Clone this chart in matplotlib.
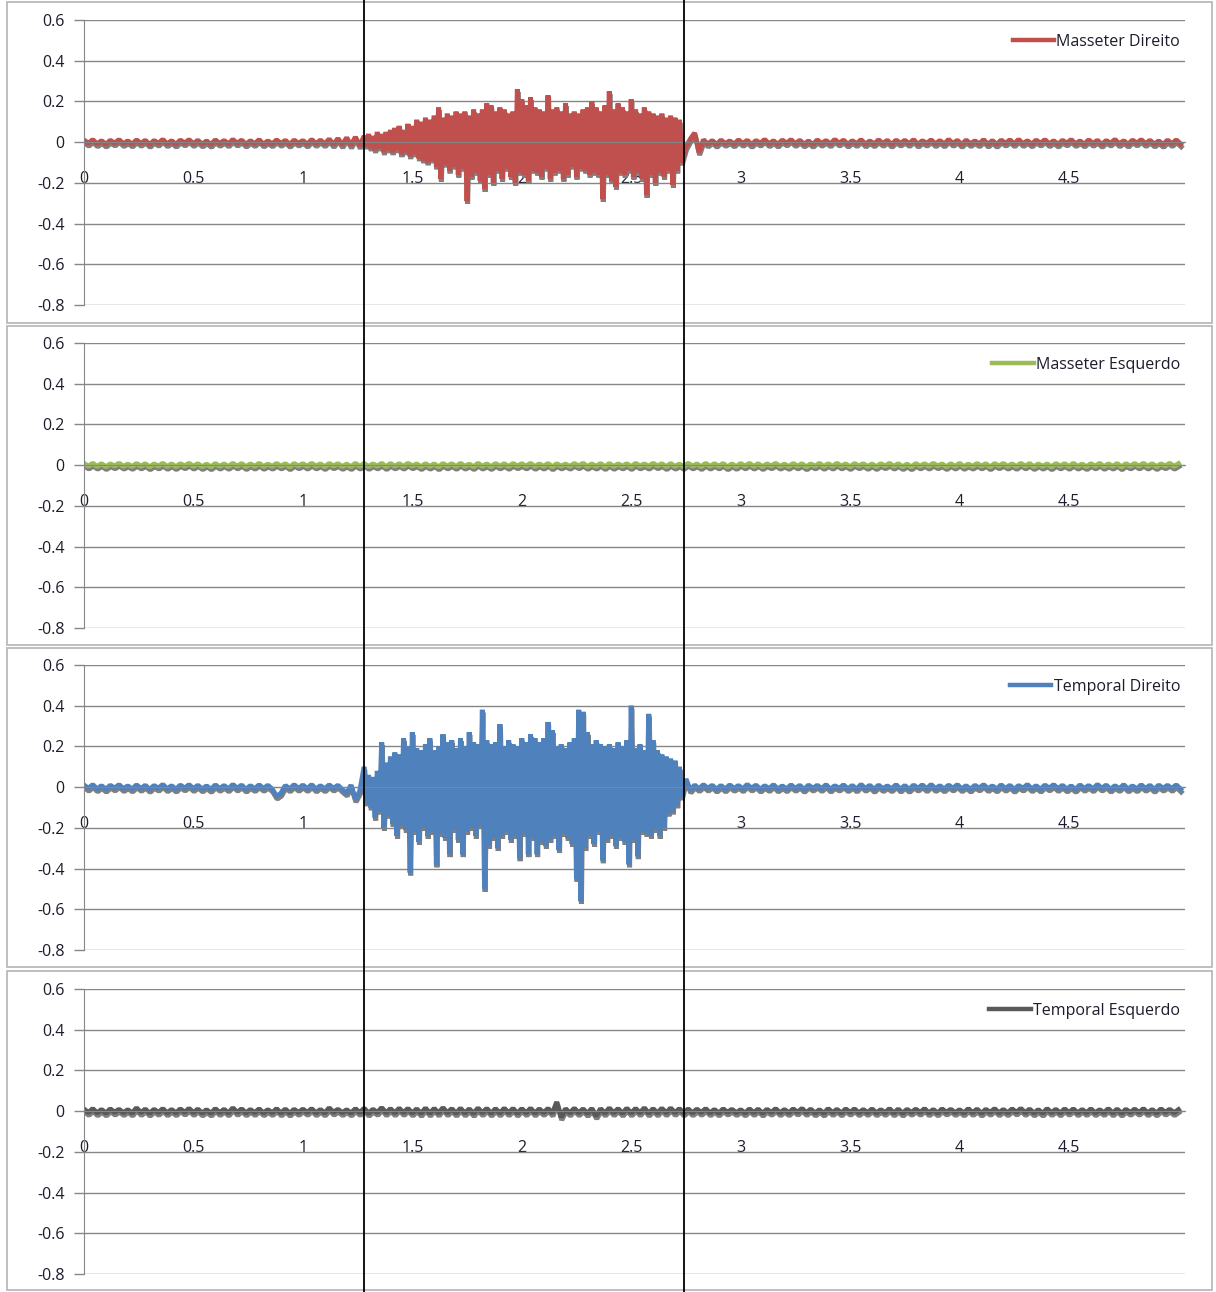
import numpy as np
import matplotlib
matplotlib.use("Agg")
import matplotlib.pyplot as plt
import matplotlib.patheffects as pe
from matplotlib.lines import Line2D
from matplotlib.patches import Rectangle
from matplotlib.transforms import blended_transform_factory

plt.rcParams['font.family'] = ['Open Sans', 'DejaVu Sans']

# --- sinais EMG (V) -------------------------------------------------------
# Masseter Direito: repouso (passo 0.02 s), contracao (passo 0.01 s), repouso
md_pre = [0.010, -0.006, 0.012, -0.009, 0.007, -0.011, 0.009, -0.005, 0.012, -0.008,
          0.006, -0.010, 0.011, -0.007, 0.009, -0.012, 0.008, -0.006, 0.013, -0.009,
          0.007, -0.011, 0.010, -0.005, 0.012, -0.008, 0.009, -0.010, 0.006, -0.012,
          0.011, -0.007, 0.008, -0.009, 0.013, -0.006, 0.010, -0.011, 0.007, -0.008,
          0.012, -0.010, 0.006, -0.009, 0.011, -0.007, 0.009, -0.012, 0.010, -0.006,
          0.008, -0.011, 0.013, -0.008, 0.010, -0.009, 0.015, -0.012, 0.018, -0.014,
          0.022, -0.016, 0.025, -0.018]
md_burst = [0.03, -0.02, 0.04, -0.03, 0.03, -0.04, 0.05, -0.03, 0.04, -0.05,
            0.05, -0.04, 0.06, -0.05, 0.07, -0.04, 0.08, -0.06, 0.06, -0.05,
            0.09, -0.07, 0.08, -0.06, 0.11, -0.08, 0.10, -0.09, 0.12, -0.10,
            0.11, -0.09, 0.13, -0.12, 0.17, -0.18, 0.12, -0.11, 0.14, -0.14,
            0.13, -0.12, 0.15, -0.16, 0.14, -0.13, 0.15, -0.29, 0.13, -0.17,
            0.16, -0.15, 0.14, -0.19, 0.16, -0.23, 0.19, -0.16, 0.18, -0.20,
            0.15, -0.14, 0.17, -0.18, 0.16, -0.13, 0.14, -0.17, 0.15, -0.20,
            0.26, -0.15, 0.21, -0.16, 0.18, -0.19, 0.22, -0.14, 0.17, -0.15,
            0.16, -0.17, 0.15, -0.13, 0.23, -0.18, 0.16, -0.15, 0.17, -0.14,
            0.15, -0.18, 0.19, -0.16, 0.14, -0.12, 0.15, -0.17, 0.14, -0.13,
            0.16, -0.14, 0.17, -0.16, 0.20, -0.15, 0.17, -0.16, 0.15, -0.28,
            0.18, -0.16, 0.25, -0.19, 0.16, -0.22, 0.19, -0.15, 0.17, -0.16,
            0.15, -0.14, 0.21, -0.17, 0.16, -0.15, 0.14, -0.18, 0.17, -0.26,
            0.15, -0.16, 0.14, -0.20, 0.13, -0.15, 0.14, -0.17, 0.12, -0.14,
            0.13, -0.21, 0.12, -0.14, 0.11, -0.10]
md_post = [-0.025, 0.015, 0.045, -0.050, 0.012, -0.010, 0.008, -0.012, 0.010, -0.007,
           0.006, -0.010, 0.011, -0.007, 0.009, -0.012, 0.008, -0.006, 0.013, -0.009,
           0.007, -0.011, 0.010, -0.005, 0.012, -0.008, 0.009, -0.010, 0.006, -0.012,
           0.011, -0.007, 0.008, -0.009, 0.013, -0.006, 0.010, -0.011, 0.007, -0.008,
           0.012, -0.010, 0.006, -0.009, 0.011, -0.007, 0.009, -0.012, 0.010, -0.006,
           0.009, -0.008, 0.012, -0.011, 0.007, -0.006, 0.011, -0.009, 0.008, -0.010,
           0.013, -0.007, 0.009, -0.012, 0.010, -0.008, 0.006, -0.009, 0.012, -0.011,
           0.008, -0.012, 0.010, -0.006, 0.011, -0.009, 0.013, -0.008, 0.007, -0.010,
           0.010, -0.006, 0.012, -0.009, 0.007, -0.011, 0.009, -0.005, 0.012, -0.008,
           0.006, -0.010, 0.011, -0.007, 0.009, -0.012, 0.008, -0.006, 0.013, -0.009,
           0.007, -0.011, 0.010, -0.005, 0.012, -0.008, 0.009, -0.010, 0.006, -0.012,
           0.010, -0.008, 0.011, -0.009]

# Masseter Esquerdo: praticamente sem atividade (passo 0.02 s)
me_vals = [0.008, -0.005, 0.009, -0.006, 0.007, -0.008, 0.006, -0.004, 0.009, -0.006,
           0.005, -0.007, 0.008, -0.005, 0.007, -0.009, 0.006, -0.005, 0.009, -0.007,
           0.006, -0.008, 0.007, -0.004, 0.009, -0.006, 0.007, -0.008, 0.005, -0.009,
           0.008, -0.006, 0.006, -0.007, 0.009, -0.005, 0.008, -0.008, 0.006, -0.006,
           0.009, -0.007, 0.005, -0.006, 0.008, -0.005, 0.007, -0.009, 0.008, -0.004,
           0.007, -0.006, 0.009, -0.005, 0.006, -0.008, 0.008, -0.004, 0.007, -0.007,
           0.005, -0.008, 0.009, -0.006, 0.008, -0.007, 0.006, -0.005, 0.009, -0.008,
           0.008, -0.005, 0.007, -0.006, 0.009, -0.004, 0.006, -0.008, 0.007, -0.006,
           0.006, -0.009, 0.008, -0.005, 0.007, -0.007, 0.009, -0.006, 0.005, -0.008,
           0.009, -0.006, 0.006, -0.008, 0.008, -0.005, 0.007, -0.007, 0.008, -0.004,
           0.007, -0.005, 0.009, -0.007, 0.006, -0.006, 0.008, -0.009, 0.007, -0.005,
           0.005, -0.006, 0.008, -0.004, 0.009, -0.007, 0.006, -0.006, 0.008, -0.008,
           0.008, -0.007, 0.006, -0.005, 0.007, -0.008, 0.009, -0.005, 0.006, -0.006,
           0.009, -0.004, 0.007, -0.008, 0.008, -0.006, 0.005, -0.007, 0.009, -0.005,
           0.006, -0.008, 0.009, -0.006, 0.007, -0.005, 0.008, -0.009, 0.006, -0.007,
           0.008, -0.005, 0.009, -0.006, 0.007, -0.008, 0.006, -0.004, 0.009, -0.006,
           0.005, -0.007, 0.008, -0.005, 0.007, -0.009, 0.006, -0.005, 0.009, -0.007,
           0.007, -0.006, 0.009, -0.005, 0.006, -0.008, 0.008, -0.004, 0.007, -0.007,
           0.006, -0.008, 0.007, -0.004, 0.009, -0.006, 0.007, -0.008, 0.005, -0.009,
           0.008, -0.005, 0.007, -0.006, 0.009, -0.004, 0.006, -0.008, 0.007, -0.006,
           0.009, -0.007, 0.005, -0.006, 0.008, -0.005, 0.007, -0.009, 0.008, -0.004,
           0.008, -0.006, 0.006, -0.007, 0.009, -0.005, 0.008, -0.008, 0.006, -0.006,
           0.006, -0.009, 0.008, -0.005, 0.007, -0.007, 0.009, -0.006, 0.005, -0.008,
           0.007, -0.005, 0.009, -0.007, 0.006, -0.006, 0.008, -0.009, 0.007, -0.005,
           0.008, -0.005, 0.009, -0.006, 0.007, -0.008, 0.006, -0.004, 0.009, -0.006,
           0.007]

# Temporal Direito
td_pre = [0.010, -0.006, 0.012, -0.009, 0.007, -0.011, 0.009, -0.005, 0.012, -0.008,
          0.006, -0.010, 0.011, -0.007, 0.009, -0.012, 0.008, -0.006, 0.013, -0.009,
          0.007, -0.011, 0.010, -0.005, 0.012, -0.008, 0.009, -0.010, 0.006, -0.012,
          0.011, -0.007, 0.008, -0.009, 0.013, -0.006, 0.010, -0.011, 0.007, -0.008,
          0.011, -0.007, 0.009, -0.010, -0.045, -0.030, 0.008, -0.009, 0.012, -0.007,
          0.010, -0.008, 0.012, -0.010, 0.007, -0.009, 0.011, -0.006, 0.009, -0.012,
          -0.030, 0.010, -0.060, -0.020]
td_burst = [0.10, -0.08, 0.06, -0.10, 0.05, -0.15, 0.08, -0.12, 0.22, -0.20,
            0.12, -0.14, 0.15, -0.18, 0.17, -0.24, 0.16, -0.19, 0.24, -0.21,
            0.20, -0.42, 0.27, -0.22, 0.19, -0.27, 0.18, -0.20, 0.21, -0.24,
            0.24, -0.22, 0.18, -0.38, 0.20, -0.23, 0.26, -0.25, 0.22, -0.33,
            0.23, -0.21, 0.19, -0.26, 0.24, -0.33, 0.20, -0.22, 0.27, -0.20,
            0.22, -0.24, 0.21, -0.19, 0.38, -0.50, 0.23, -0.29, 0.21, -0.25,
            0.22, -0.30, 0.31, -0.24, 0.20, -0.22, 0.23, -0.26, 0.21, -0.24,
            0.20, -0.35, 0.24, -0.23, 0.22, -0.33, 0.26, -0.25, 0.24, -0.33,
            0.22, -0.27, 0.24, -0.29, 0.32, -0.26, 0.28, -0.24, 0.20, -0.31,
            0.21, -0.23, 0.19, -0.25, 0.22, -0.28, 0.24, -0.45, 0.38, -0.56,
            0.37, -0.30, 0.27, -0.24, 0.21, -0.28, 0.23, -0.22, 0.21, -0.36,
            0.20, -0.26, 0.21, -0.24, 0.19, -0.29, 0.22, -0.25, 0.20, -0.27,
            0.23, -0.38, 0.40, -0.26, 0.19, -0.34, 0.21, -0.22, 0.18, -0.23,
            0.36, -0.24, 0.23, -0.21, 0.18, -0.24, 0.16, -0.20, 0.15, -0.13,
            0.14, -0.12, 0.13, -0.09, 0.10, -0.05]
td_post = [0.040, -0.015, 0.010, -0.008, 0.012, -0.006, 0.009, -0.011, 0.008, -0.010,
           0.011, -0.007, 0.008, -0.009, 0.013, -0.006, 0.010, -0.011, 0.007, -0.008,
           0.012, -0.010, 0.006, -0.009, 0.011, -0.007, 0.009, -0.012, 0.010, -0.006,
           0.009, -0.008, 0.012, -0.011, 0.007, -0.006, 0.011, -0.009, 0.008, -0.010,
           0.013, -0.007, 0.009, -0.012, 0.010, -0.008, 0.006, -0.009, 0.012, -0.011,
           0.008, -0.012, 0.010, -0.006, 0.011, -0.009, 0.013, -0.008, 0.007, -0.010,
           0.010, -0.006, 0.012, -0.009, 0.007, -0.011, 0.009, -0.005, 0.012, -0.008,
           0.006, -0.010, 0.011, -0.007, 0.009, -0.012, 0.008, -0.006, 0.013, -0.009,
           0.007, -0.011, 0.010, -0.005, 0.012, -0.008, 0.009, -0.010, 0.006, -0.012,
           0.011, -0.007, 0.008, -0.009, 0.013, -0.006, 0.010, -0.011, 0.007, -0.008,
           0.012, -0.010, 0.006, -0.009, 0.011, -0.007, 0.009, -0.012, 0.010, -0.006,
           0.009, -0.007, 0.011, -0.010]

# Temporal Esquerdo (passo 0.02 s)
te_vals = [0.010, -0.007, 0.012, -0.009, 0.008, -0.010, 0.011, -0.006, 0.009, -0.008,
           0.007, -0.010, 0.016, -0.008, 0.010, -0.011, 0.009, -0.007, 0.012, -0.009,
           0.008, -0.009, 0.011, -0.006, 0.013, -0.008, 0.010, -0.010, 0.007, -0.011,
           0.012, -0.008, 0.009, -0.010, 0.016, -0.007, 0.011, -0.009, 0.008, -0.008,
           0.011, -0.009, 0.007, -0.008, 0.012, -0.010, 0.010, -0.011, 0.009, -0.007,
           0.010, -0.007, 0.012, -0.009, 0.008, -0.010, 0.016, -0.006, 0.009, -0.008,
           0.007, -0.010, 0.012, -0.008, 0.014, -0.011, 0.009, -0.007, 0.017, -0.009,
           0.012, -0.009, 0.014, -0.008, 0.013, -0.010, 0.011, -0.012, 0.015, -0.011,
           0.013, -0.010, 0.017, -0.009, 0.012, -0.011, 0.014, -0.010, 0.011, -0.012,
           0.015, -0.009, 0.013, -0.011, 0.012, -0.010, 0.014, -0.009, 0.013, -0.011,
           0.012, -0.009, 0.014, -0.010, 0.011, -0.008, 0.013, -0.011, 0.045, -0.030,
           0.012, -0.010, 0.014, -0.009, 0.011, -0.012, 0.013, -0.024, 0.012, -0.010,
           0.015, -0.009, 0.012, -0.011, 0.014, -0.010, 0.013, -0.009, 0.016, -0.011,
           0.012, -0.010, 0.014, -0.009, 0.015, -0.008, 0.012, -0.010, 0.011, -0.009,
           0.010, -0.007, 0.012, -0.009, 0.008, -0.010, 0.011, -0.006, 0.009, -0.008,
           0.007, -0.010, 0.011, -0.008, 0.010, -0.011, 0.009, -0.007, 0.012, -0.009,
           0.008, -0.009, 0.011, -0.006, 0.013, -0.008, 0.010, -0.010, 0.007, -0.011,
           0.012, -0.008, 0.009, -0.010, 0.011, -0.007, 0.011, -0.009, 0.008, -0.008,
           0.011, -0.009, 0.007, -0.008, 0.012, -0.010, 0.010, -0.011, 0.009, -0.007,
           0.010, -0.007, 0.012, -0.009, 0.008, -0.010, 0.011, -0.006, 0.009, -0.008,
           0.007, -0.010, 0.012, -0.008, 0.010, -0.011, 0.009, -0.007, 0.012, -0.009,
           0.008, -0.009, 0.011, -0.006, 0.013, -0.008, 0.010, -0.010, 0.007, -0.011,
           0.012, -0.008, 0.009, -0.010, 0.011, -0.007, 0.011, -0.009, 0.008, -0.008,
           0.011, -0.009, 0.007, -0.008, 0.012, -0.010, 0.010, -0.011, 0.009, -0.007,
           0.010, -0.007, 0.012, -0.009, 0.008, -0.010, 0.011, -0.006, 0.009, -0.008,
           0.007]

# inicio e fim da contracao (s)
marker_times = [1.28, 2.74]

series_names = ['Masseter Direito', 'Masseter Esquerdo',
                'Temporal Direito', 'Temporal Esquerdo']
series_colors = ['#C0504D', '#9BBB59', '#4F81BD', '#595959']

y_ticks = [-0.8, -0.6, -0.4, -0.2, 0, 0.2, 0.4, 0.6]
y_labels = ['-0.8', '-0.6', '-0.4', '-0.2', '0', '0.2', '0.4', '0.6']
x_ticks = [0, 0.5, 1, 1.5, 2, 2.5, 3, 3.5, 4, 4.5]
x_labels = ['0', '0.5', '1', '1.5', '2', '2.5', '3', '3.5', '4', '4.5']


def split_time(pre, burst, post):
    t_pre = np.arange(len(pre)) * 0.02
    t_burst = 1.28 + np.arange(len(burst)) * 0.01
    t_post = 2.75 + np.arange(len(post)) * 0.02
    t = np.concatenate([t_pre, t_burst, t_post])
    v = np.concatenate([pre, burst, post])
    return t, v


md_t, md_v = split_time(md_pre, md_burst, md_post)
td_t, td_v = split_time(td_pre, td_burst, td_post)
me_t = np.arange(len(me_vals)) * 0.02
te_t = np.arange(len(te_vals)) * 0.02

data = [(md_t, md_v), (me_t, np.array(me_vals)),
        (td_t, td_v), (te_t, np.array(te_vals))]

# --- figura -----------------------------------------------------------------
W, H = 1216, 1292
fig = plt.figure(figsize=(W / 100, H / 100), dpi=100)

grid_c = '#868686'
txt_c = '#1c1c2c'
box_tops = [2, 326, 648, 971]
box_bots = [323, 645, 967, 1290]
plot_tops = [20, 343, 665, 989]
plot_h = 285
left_px, right_px = 84, 1185

axes = []
for i in range(4):
    # borda da area do grafico
    fig.patches.append(Rectangle((7 / W, 1 - box_bots[i] / H),
                                 (1212 - 7) / W, (box_bots[i] - box_tops[i]) / H,
                                 transform=fig.transFigure, fill=False,
                                 edgecolor='#b4b4b4', linewidth=1.2))

    ax = fig.add_axes([left_px / W, 1 - (plot_tops[i] + plot_h) / H,
                       (right_px - left_px) / W, plot_h / H])
    t, v = data[i]
    ax.plot(t, v, color=series_colors[i], linewidth=3.6, label=series_names[i],
            solid_joinstyle='bevel',
            path_effects=[pe.SimpleLineShadow(offset=(0.4, -2.0),
                                              shadow_color='#7f7f7f', alpha=1.0),
                          pe.Normal()])

    ax.set_xlim(0, 5.03)
    ax.set_ylim(-0.8, 0.6)
    ax.set_yticks(y_ticks)
    ax.set_yticklabels(y_labels)
    ax.set_xticks(x_ticks)
    ax.set_xticklabels(x_labels)

    ax.yaxis.grid(True, color=grid_c, linewidth=1.0)
    ax.set_axisbelow(True)
    for s in ['top', 'right']:
        ax.spines[s].set_visible(False)
    ax.spines['left'].set_color(grid_c)
    ax.spines['bottom'].set_color(grid_c)
    ax.spines['bottom'].set_position(('data', 0))

    ax.tick_params(axis='y', direction='out', length=7, width=1, color=grid_c,
                   labelsize=11.5, labelcolor=txt_c, pad=7)
    ax.tick_params(axis='x', length=0, labelsize=11.5, labelcolor=txt_c, pad=21)

    leg = ax.legend(loc='upper right', bbox_to_anchor=(1.0, 0.968), frameon=False,
                    fontsize=11.5, handlelength=2.6, handletextpad=0.15,
                    borderpad=0.0, borderaxespad=0.3)
    for line in leg.get_lines():
        line.set_path_effects([])
        line.set_linewidth(3.2)
    for txt in leg.get_texts():
        txt.set_color(txt_c)
    axes.append(ax)

# linhas verticais de inicio e fim da contracao, atravessando os quatro graficos
trans = blended_transform_factory(axes[0].transData, fig.transFigure)
for tm in marker_times:
    fig.add_artist(Line2D([tm, tm], [0, 1], transform=trans, color='black',
                          linewidth=1.3, zorder=10))

fig.savefig('out.png', dpi=100)
